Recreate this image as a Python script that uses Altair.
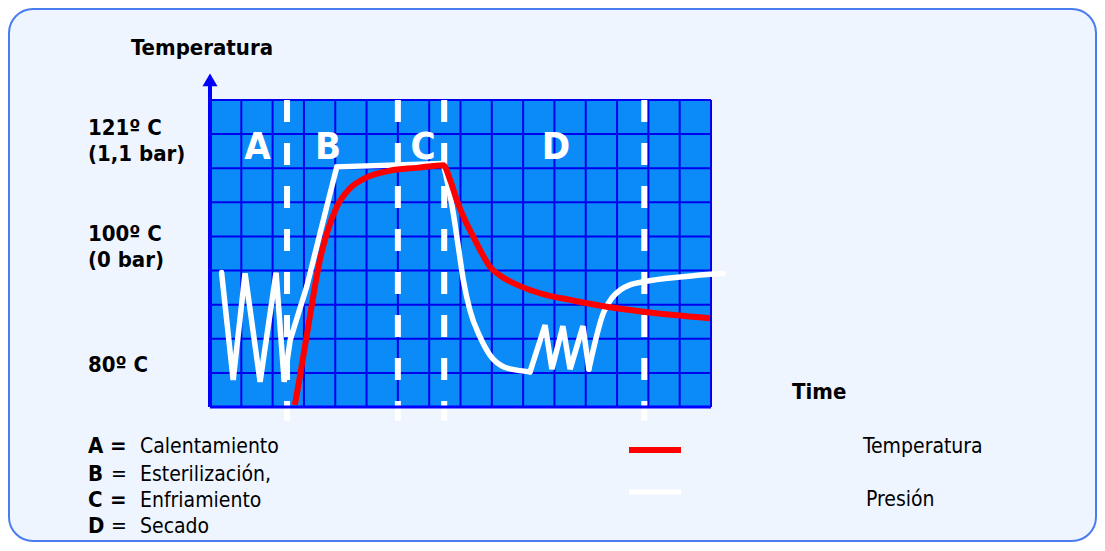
import altair as alt
import pandas as pd

# ---------------- data ----------------
grid_x = list(range(17))          # 16 columns
grid_y = list(range(10))          # 9 rows

phase_x = [2.46, 6.0, 7.48, 13.87]            # dashed phase borders
phase_labels = ["A", "B", "C", "D"]
phase_label_x = [1.52, 3.77, 6.80, 11.05]
phase_label_y = 7.27

temp_x = [2.71, 2.87, 3.03, 3.19, 3.35, 3.51, 3.73, 4.05, 4.47, 5.00, 5.75, 6.60, 7.45,
          7.67, 7.88, 8.14, 8.41, 8.68, 8.94, 9.32, 9.69, 10.22, 10.75, 11.50, 12.35, 13.84, 15.97]
temp_y = [0.06, 0.89, 1.77, 2.65, 3.53, 4.31, 5.09, 5.87, 6.41, 6.73, 6.93, 7.01, 7.09,
          6.65, 6.07, 5.48, 4.99, 4.51, 4.11, 3.82, 3.63, 3.43, 3.28, 3.14, 2.99, 2.79, 2.60]

# pressure: sharp (zig-zag / ramp) parts and smooth curved parts
pres_sharp1_x = [0.37, 0.74, 1.12, 1.60, 2.11, 2.37, 2.56, 3.09, 3.62, 4.05, 7.45]
pres_sharp1_y = [3.94, 0.79, 3.92, 0.74, 3.94, 0.74, 1.96, 3.53, 5.48, 7.04, 7.14]
pres_curve1_x = [7.45, 7.61, 7.77, 7.93, 8.09, 8.30, 8.62, 8.94, 9.37, 9.80, 10.22]
pres_curve1_y = [7.14, 6.46, 5.68, 4.70, 3.72, 2.84, 2.06, 1.52, 1.18, 1.08, 1.03]
pres_sharp2_x = [10.22, 10.70, 10.92, 11.27, 11.50, 11.91, 12.10]
pres_sharp2_y = [1.03, 2.40, 1.11, 2.37, 1.11, 2.37, 1.11]
pres_curve2_x = [12.10, 12.56, 12.83, 13.10, 13.41, 13.84, 15.12, 16.39]
pres_curve2_y = [1.11, 2.75, 3.19, 3.43, 3.58, 3.67, 3.82, 3.92]

title_text = "Temperatura"
y_labels = ["121º C", "(1,1 bar)", "100º C", "(0 bar)", "80º C"]
x_label = "Time"
key_letters = ["A", "B", "C", "D"]
key_eq_bold = [True, False, True, False]
key_desc = ["Calentamiento", "Esterilización,", "Enfriamiento", "Secado"]
series_names = ["Temperatura", "Presión"]

# ---------------- layout ----------------
W, H = 501, 307
FONT = "DejaVu Sans Condensed, Liberation Sans, DejaVu Sans"
xs = alt.Scale(domain=[0, 16], nice=False, zero=False)
ys = alt.Scale(domain=[0, 9], nice=False, zero=False)
one = alt.Data(values=[{"k": 1}])


def X():
    return alt.X("x:Q", scale=xs, axis=None)


def Y():
    return alt.Y("y:Q", scale=ys, axis=None)


panel = alt.Chart(one).mark_rect(
    fill="#EEF5FF", stroke="#4A7CF0", strokeWidth=2, cornerRadius=24
).encode(x=alt.value(-201), x2=alt.value(886), y=alt.value(-91), y2=alt.value(441))

bg = alt.Chart(pd.DataFrame({"x": [0], "x2": [16], "y": [0], "y2": [9]})).mark_rect(
    fill="#0B8BF8"
).encode(x=X(), x2="x2:Q", y=Y(), y2="y2:Q")

vgrid = alt.Chart(pd.DataFrame({"x": grid_x, "y": [0] * len(grid_x), "y2": [9] * len(grid_x)})).mark_rule(
    color="#0000EE", strokeWidth=2
).encode(x=X(), y=Y(), y2="y2:Q")

hgrid = alt.Chart(pd.DataFrame({"y": grid_y, "x": [0] * len(grid_y), "x2": [16] * len(grid_y)})).mark_rule(
    color="#0000EE", strokeWidth=2
).encode(y=Y(), x=X(), x2="x2:Q")

dashed = alt.Chart(pd.DataFrame({"x": phase_x, "y": [9] * 4, "y2": [-0.4] * 4})).mark_rule(
    color="white", strokeWidth=6, strokeDash=[22, 21]
).encode(x=X(), y=Y(), y2="y2:Q")

letters = alt.Chart(pd.DataFrame({"x": phase_label_x, "y": [phase_label_y] * 4, "t": phase_labels})).mark_text(
    font=FONT, fontWeight="bold", fontSize=38, color="white", align="center", baseline="alphabetic"
).encode(x=X(), y=Y(), text="t:N")

yaxis = alt.Chart(pd.DataFrame({"x": [0], "y": [0], "y2": [9.5]})).mark_rule(
    color="#0000FF", strokeWidth=4
).encode(x=X(), y=Y(), y2="y2:Q")

xaxis = alt.Chart(pd.DataFrame({"y": [0], "x": [0], "x2": [16]})).mark_rule(
    color="#0000FF", strokeWidth=3
).encode(y=Y(), x=X(), x2="x2:Q")

arrow = alt.Chart(pd.DataFrame({"x": [0], "y": [9.59]})).mark_point(
    shape="triangle-up", filled=True, size=225, color="#0000FF", opacity=1
).encode(x=X(), y=Y())


def seg_df(xv, yv):
    return pd.DataFrame({"x": xv, "y": yv, "i": range(len(xv))})


def pres_line(xv, yv, interp):
    return alt.Chart(seg_df(xv, yv)).mark_line(
        color="white", strokeWidth=5.5, interpolate=interp, strokeCap="round"
    ).encode(x=X(), y=Y(), order="i:Q")


pres_layers = [
    pres_line(pres_sharp1_x, pres_sharp1_y, "linear"),
    pres_line(pres_curve1_x, pres_curve1_y, "monotone"),
    pres_line(pres_sharp2_x, pres_sharp2_y, "linear"),
    pres_line(pres_curve2_x, pres_curve2_y, "monotone"),
]

temp = alt.Chart(seg_df(temp_x, temp_y)).mark_line(
    color="#FF0000", strokeWidth=6, interpolate="monotone"
).encode(x=X(), y=Y(), order="i:Q")

# ---------------- text (pixel positions relative to plot area) ----------------
bold_rows = [
    (-79, -45.5, title_text),
    (-122, 35, y_labels[0]),
    (-122, 60.7, y_labels[1]),
    (-122, 140.7, y_labels[2]),
    (-122, 166.7, y_labels[3]),
    (-122, 272.3, y_labels[4]),
    (582, 299.3, x_label),
]
key_base = [353.3, 381, 407.3, 432.7]
for i, L in enumerate(key_letters):
    bold_rows.append((-122, key_base[i], L))
reg_rows = []
for i, d in enumerate(key_desc):
    if key_eq_bold[i]:
        bold_rows.append((-100, key_base[i], "="))
    else:
        reg_rows.append((-99, key_base[i], "="))
    reg_rows.append((-70, key_base[i], d))
reg_rows.append((653, 353.3, series_names[0]))
reg_rows.append((656, 405.7, series_names[1]))

bold_df = pd.DataFrame(bold_rows, columns=["px", "py", "t"])
reg_df = pd.DataFrame(reg_rows, columns=["px", "py", "t"])

bold_text = alt.Chart(bold_df).mark_text(
    font=FONT, fontWeight="bold", fontSize=22, color="#000000", align="left", baseline="alphabetic"
).encode(x=alt.X("px:Q", scale=None), y=alt.Y("py:Q", scale=None), text="t:N")

reg_text = alt.Chart(reg_df).mark_text(
    font=FONT, fontSize=21, color="#000000", align="left", baseline="alphabetic"
).encode(x=alt.X("px:Q", scale=None), y=alt.Y("py:Q", scale=None), text="t:N")

leg_red = alt.Chart(one).mark_rule(color="#FF0000", strokeWidth=6).encode(
    x=alt.value(419), x2=alt.value(471), y=alt.value(350))
leg_white = alt.Chart(one).mark_rule(color="white", strokeWidth=5).encode(
    x=alt.value(419), x2=alt.value(471), y=alt.value(392))

chart = alt.layer(
    panel, bg, vgrid, hgrid, dashed, letters, *pres_layers, temp, yaxis, xaxis, arrow,
    bold_text, reg_text, leg_red, leg_white
).properties(
    width=W, height=H,
    padding={"left": 202, "top": 92, "right": 386, "bottom": 136},
    autosize=alt.AutoSizeParams(type="none"),
    background="white",
).configure_view(stroke=None)

chart.save("out.html", embed_options={"renderer": "svg", "actions": False})
